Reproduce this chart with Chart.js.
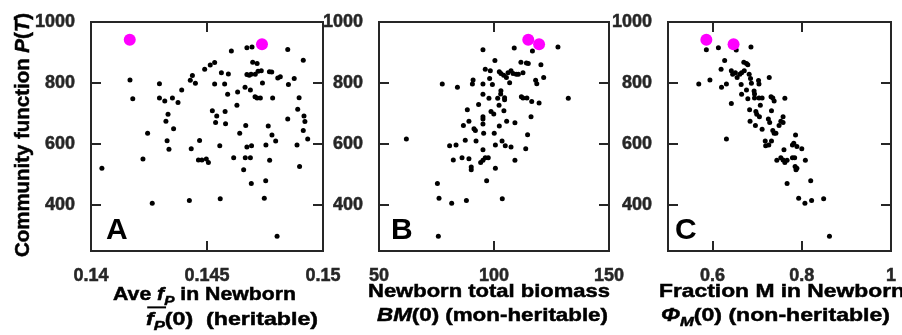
<!DOCTYPE html>
<html>
<head>
<meta charset="utf-8">
<script src="https://cdn.jsdelivr.net/npm/chart.js@4.4.0/dist/chart.umd.min.js"></script>
<style>
  html, body { margin: 0; padding: 0; background: #fff; }
  #wrap { position: relative; width: 902px; height: 335px; overflow: hidden; }
  #wrap canvas { position: absolute; left: 0; top: 0; }
</style>
</head>
<body>
<div id="wrap">
  <canvas id="chartA" width="902" height="335"></canvas>
  <canvas id="chartB" width="902" height="335"></canvas>
  <canvas id="chartC" width="902" height="335"></canvas>
</div>
<script>
// community function P(T) (y) against three newborn properties

// Panel A: average f_P in newborn
const fpA = [0.14047, 0.14168, 0.1418, 0.14244, 0.14224, 0.14264, 0.14295, 0.14295, 0.14318, 0.14351,
  0.14375, 0.14391, 0.14332, 0.14323, 0.14356, 0.14328, 0.14336, 0.14428, 0.14437, 0.1445,
  0.1449, 0.14514, 0.14533, 0.14533, 0.14562, 0.14592, 0.14576, 0.14589, 0.14523, 0.14542,
  0.14537, 0.14578, 0.1458, 0.14468, 0.14432, 0.14463, 0.14478, 0.14497, 0.14506, 0.14555,
  0.14424, 0.14557, 0.14605, 0.14672, 0.14694, 0.14697, 0.14716, 0.14672, 0.14682, 0.14708,
  0.1472, 0.14734, 0.14769, 0.14779, 0.14805, 0.14816, 0.14848, 0.14915, 0.14876, 0.14851,
  0.14739, 0.14664, 0.14687, 0.14632, 0.14707, 0.14716, 0.1473, 0.14783, 0.14629, 0.14897,
  0.14891, 0.14918, 0.14922, 0.14915, 0.14934, 0.14848, 0.14667, 0.14641, 0.14764, 0.1478,
  0.14796, 0.14754, 0.14672, 0.14692, 0.14615, 0.14665, 0.14687, 0.14658, 0.1477, 0.14888,
  0.14899, 0.14691, 0.14753, 0.14747, 0.14802, 0.1469];
const ptA = [521, 810, 749, 636, 551, 406, 798, 751, 741, 751,
  736, 777, 698, 675, 650, 611, 583, 809, 825, 799,
  845, 859, 867, 797, 834, 830, 797, 763, 709, 692,
  671, 707, 667, 612, 585, 548, 548, 551, 540, 595,
  415, 421, 905, 916, 918, 868, 864, 828, 826, 829,
  839, 840, 837, 836, 817, 821, 910, 875, 815, 795,
  800, 786, 777, 771, 755, 751, 751, 751, 727, 752,
  714, 692, 674, 645, 617, 682, 661, 636, 659, 630,
  610, 597, 591, 595, 555, 555, 555, 516, 547, 597,
  527, 471, 480, 423, 298, 829];

// Panel B: newborn total biomass
const bmB = [61.9, 77.5, 75.4, 76.1, 75.8, 81.6, 88.0, 80.7, 83.5, 82.3,
  86.1, 89.1, 90.1, 90.1, 87.5, 86.7, 89.1, 88.4, 91.3, 91.9,
  92.2, 93.3, 90.9, 90.6, 84.1, 95.2, 95.2, 95.2, 95.2, 95.2,
  95.2, 95.5, 95.2, 95.2, 96.2, 97.5, 94.2, 96.8, 96.2, 98.4,
  98.1, 99.3, 97.8, 98.7, 99.9, 100.1, 100.6, 100.6, 100.4, 102.3,
  103.0, 104.2, 105.4, 106.8, 106.1, 107.4, 108.3, 109.7, 110.6, 112.6,
  108.8, 111.7, 114.1, 114.9, 116.7, 120.4, 127.8, 121.6, 118.1, 118.6,
  132.3, 103.0, 102.9, 101.6, 104.6, 104.6, 102.2, 104.3, 102.3, 105.5,
  109.1, 103.5, 104.9, 107.4, 109.1, 103.6, 111.9, 112.6, 114.3, 116.4,
  119.6, 116.1, 114.6, 113.8];
const ptB = [617, 797, 471, 423, 298, 406, 415, 595, 597, 548,
  555, 552, 525, 516, 613, 661, 675, 713, 650, 645,
  610, 730, 810, 797, 786, 909, 797, 763, 690, 682,
  666, 636, 582, 547, 555, 555, 540, 480, 845, 840,
  815, 795, 750, 707, 699, 636, 597, 521, 874, 837,
  831, 826, 818, 801, 834, 840, 831, 829, 829, 834,
  915, 868, 866, 864, 905, 860, 918, 818, 809, 798,
  750, 775, 764, 750, 752, 745, 727, 709, 659, 675,
  670, 610, 595, 591, 547, 421, 755, 751, 751, 740,
  735, 690, 631, 585];

// Panel C: fraction M in newborn
const phiC = [0.569, 0.586, 0.594, 0.613, 0.619, 0.627, 0.620, 0.631, 0.631, 0.642,
  0.642, 0.645, 0.651, 0.653, 0.655, 0.661, 0.665, 0.670, 0.676, 0.679,
  0.671, 0.682, 0.686, 0.685, 0.664, 0.665, 0.676, 0.679, 0.687, 0.693,
  0.694, 0.703, 0.704, 0.694, 0.704, 0.711, 0.707, 0.683, 0.684, 0.696,
  0.697, 0.699, 0.705, 0.711, 0.727, 0.731, 0.735, 0.738, 0.732, 0.725,
  0.728, 0.735, 0.738, 0.742, 0.749, 0.753, 0.758, 0.758, 0.762, 0.718,
  0.719, 0.726, 0.732, 0.744, 0.753, 0.758, 0.762, 0.767, 0.760, 0.767,
  0.779, 0.782, 0.786, 0.789, 0.800, 0.779, 0.784, 0.785, 0.789, 0.787,
  0.808, 0.820, 0.793, 0.807, 0.822, 0.849, 0.862];
const ptC = [797, 909, 810, 916, 845, 874, 786, 797, 617, 733,
  840, 829, 834, 908, 818, 829, 834, 868, 864, 860,
  840, 829, 918, 815, 795, 763, 777, 749, 799, 774,
  764, 808, 797, 751, 751, 751, 727, 713, 675, 661,
  707, 698, 690, 649, 818, 755, 751, 741, 709, 682,
  671, 645, 636, 636, 661, 675, 671, 690, 750, 610,
  595, 597, 610, 547, 555, 548, 540, 547, 582, 471,
  597, 603, 630, 592, 585, 555, 555, 527, 521, 516,
  547, 480, 423, 406, 415, 421, 298];

// the two selected communities (magenta)
const topPt = [942, 927];
const topFpA = [0.14167, 0.14737];
const topBmB = [114.9, 119.6];
const topPhiC = [0.586, 0.647];

// ticks
const yTicks = [400, 600, 800, 1000];
const yTickLabels = ['400', '600', '800', '1000'];
const xTicksA = [0.14, 0.145, 0.15];
const xTickLabelsA = ['0.14', '0.145', '0.15'];
const xTicksB = [50, 100, 150];
const xTickLabelsB = ['50', '100', '150'];
const xTicksC = [0.6, 0.8, 1];
const xTickLabelsC = ['0.6', '0.8', '1'];

const FONT = "'Liberation Sans', Arial, Helvetica, sans-serif";
const AXIS = '#262626';
const TICK = 10;
const PLOT_TOP = 22, PLOT_BOTTOM = 251;
const YAXIS_W = 70, XAXIS_H = 32;

// draws a line of mixed-style text stretched to fill 'len', starting at the current origin
function richText(ctx, segs, len, size) {
  const fontOf = s => (s.it ? 'italic ' : '') + 'bold ' + (s.sub ? size * 0.72 : size) + 'px ' + FONT;
  let w = 0;
  segs.forEach(s => { ctx.font = fontOf(s); s.w = ctx.measureText(s.t).width; w += s.w; });
  ctx.save();
  ctx.scale(len / w, 1);
  ctx.textBaseline = 'alphabetic';
  ctx.textAlign = 'left';
  ctx.strokeStyle = ctx.fillStyle;
  ctx.lineWidth = 0.5;
  let cx = 0, barStart = null, barEnd = 0;
  segs.forEach(s => {
    ctx.font = fontOf(s);
    const dy = s.sub ? size * 0.28 : 0;
    ctx.fillText(s.t, cx, dy);
    ctx.strokeText(s.t, cx, dy);
    if (s.bar) {
      if (barStart === null) barStart = cx;
      barEnd = cx + s.w;
    }
    cx += s.w;
  });
  if (barStart !== null) ctx.fillRect(barStart + 1, -size * 0.98, barEnd - barStart, 2);
  ctx.restore();
}

const panelPlugin = {
  id: 'panel',
  afterDatasetsDraw(chart, args, opts) {
    const { ctx, chartArea: a } = chart;
    const x = chart.scales.x, y = chart.scales.y;
    ctx.save();
    ctx.strokeStyle = AXIS;
    ctx.lineWidth = 2;
    ctx.strokeRect(a.left, a.top, a.right - a.left, a.bottom - a.top);
    ctx.beginPath();
    x.ticks.forEach(t => {
      const px = Math.round(x.getPixelForValue(t.value));
      if (px - a.left < 3 || a.right - px < 3) return;
      ctx.moveTo(px, a.bottom); ctx.lineTo(px, a.bottom - TICK);
      ctx.moveTo(px, a.top); ctx.lineTo(px, a.top + TICK);
    });
    y.ticks.forEach(t => {
      const py = Math.round(y.getPixelForValue(t.value));
      if (py - a.top < 3 || a.bottom - py < 3) return;
      ctx.moveTo(a.left, py); ctx.lineTo(a.left + TICK, py);
      ctx.moveTo(a.right, py); ctx.lineTo(a.right - TICK, py);
    });
    ctx.stroke();

    ctx.fillStyle = '#000';
    ctx.font = 'bold 30px ' + FONT;
    ctx.textBaseline = 'alphabetic';
    ctx.fillText(opts.letter, opts.letterX, 239);

    opts.lines.forEach(l => {
      ctx.save();
      ctx.translate(l.from, l.base);
      richText(ctx, l.segs, l.to - l.from, 19);
      ctx.restore();
    });

    if (opts.yTitle) {
      ctx.save();
      ctx.translate(29, 257);
      ctx.rotate(-Math.PI / 2);
      richText(ctx, opts.yTitle, 244, 21);
      ctx.restore();
    }
    ctx.restore();
  }
};

function points(xs, ys) {
  return xs.map((v, i) => ({ x: v, y: ys[i] }));
}

function makeChart(id, xs, ys, hx, xmin, xmax, xTicks, xLabels, left, right, panel) {
  return new Chart(document.getElementById(id), {
    type: 'scatter',
    data: {
      datasets: [
        { data: points(hx, topPt), backgroundColor: '#ff00ff', pointRadius: 6, pointBorderWidth: 0 },
        { data: points(xs, ys), backgroundColor: '#000', pointRadius: 2.5, pointBorderWidth: 0 }
      ]
    },
    options: {
      responsive: false,
      animation: false,
      events: [],
      layout: { padding: { left: left - YAXIS_W, right: 902 - right, top: PLOT_TOP, bottom: 335 - PLOT_BOTTOM - XAXIS_H } },
      plugins: { legend: { display: false }, tooltip: { enabled: false }, panel: panel },
      scales: {
        x: {
          type: 'linear', min: xmin, max: xmax,
          grid: { display: false }, border: { display: false },
          afterBuildTicks: s => { s.ticks = xTicks.map(v => ({ value: v })); },
          afterFit: s => { s.height = XAXIS_H; },
          ticks: {
            padding: 6, maxRotation: 0, autoSkip: false, color: AXIS,
            textStrokeColor: AXIS, textStrokeWidth: 0.5,
            font: { family: FONT, size: 18, weight: 'bold' },
            callback: v => xLabels[xTicks.indexOf(v)]
          }
        },
        y: {
          type: 'linear', min: 250, max: 1000,
          grid: { display: false }, border: { display: false },
          afterBuildTicks: s => { s.ticks = yTicks.map(v => ({ value: v })); },
          afterFit: s => { s.width = YAXIS_W; },
          ticks: {
            padding: 8, color: AXIS,
            textStrokeColor: AXIS, textStrokeWidth: 0.5,
            font: { family: FONT, size: 18, weight: 'bold' },
            callback: v => yTickLabels[yTicks.indexOf(v)]
          }
        }
      }
    },
    plugins: [panelPlugin]
  });
}

makeChart('chartA', fpA, ptA, topFpA, 0.14, 0.15, xTicksA, xTickLabelsA, 91, 323, {
  letter: 'A', letterX: 106,
  lines: [
    { from: 113, to: 296, base: 300, segs: [{ t: 'Ave ' }, { t: 'f', it: true }, { t: 'P', it: true, sub: true }, { t: ' in Newborn' }] },
    { from: 146, to: 318, base: 325, segs: [{ t: 'f', it: true, bar: true }, { t: 'P', it: true, sub: true, bar: true }, { t: '(0)  (heritable)' }] }
  ],
  yTitle: [{ t: 'Community function ' }, { t: 'P', it: true }, { t: '(' }, { t: 'T', it: true }, { t: ')' }]
});

makeChart('chartB', bmB, ptB, topBmB, 50, 150, xTicksB, xTickLabelsB, 379, 609, {
  letter: 'B', letterX: 391,
  lines: [
    { from: 368, to: 610, base: 297, segs: [{ t: 'Newborn total biomass' }] },
    { from: 377, to: 608, base: 321, segs: [{ t: 'BM', it: true }, { t: '(0) (mon-heritable)' }] }
  ]
});

makeChart('chartC', phiC, ptC, topPhiC, 0.5, 1, xTicksC, xTickLabelsC, 668, 896, {
  letter: 'C', letterX: 675,
  lines: [
    { from: 659, to: 905, base: 297, segs: [{ t: 'Fraction M in Newborn' }] },
    { from: 661, to: 890, base: 321, segs: [{ t: 'Φ', it: true }, { t: 'M', it: true, sub: true }, { t: '(0) (non-heritable)' }] }
  ]
});
</script>
</body>
</html>
